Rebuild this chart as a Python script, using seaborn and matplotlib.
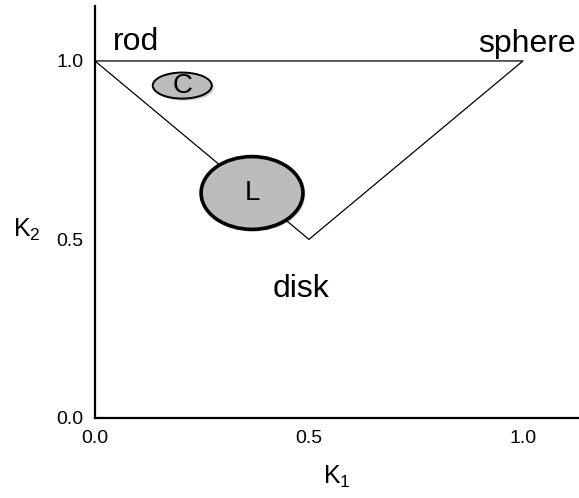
import matplotlib
matplotlib.use("Agg")
import matplotlib.pyplot as plt
from matplotlib.patches import Ellipse
import matplotlib.patheffects as pe
import pandas as pd
import seaborn as sns

# Shape-space triangle vertices (K1, K2)
vertex_names = ["rod", "sphere", "disk"]
vertex_k1 = [0.0, 1.0, 0.5]
vertex_k2 = [1.0, 1.0, 0.5]

# Occupied regions drawn as ellipses: centre and full extents
region_names = ["C", "L"]
region_k1 = [0.204, 0.367]
region_k2 = [0.931, 0.630]
region_width = [0.138, 0.238]
region_height = [0.073, 0.204]

tick_values = [0.0, 0.5, 1.0]
tick_labels = ["0.0", "0.5", "1.0"]

sns.set_theme(style="white")
plt.rcParams["font.family"] = ["Liberation Sans", "DejaVu Sans"]
plt.rcParams["mathtext.default"] = "regular"

fig = plt.figure(figsize=(5.79, 4.98), dpi=100)
ax = fig.add_axes([0.164, 0.161, 0.836, 0.827])

# closed triangle outline
tri = pd.DataFrame({
    "K1": vertex_k1 + vertex_k1[:1],
    "K2": vertex_k2 + vertex_k2[:1],
})
sns.lineplot(data=tri, x="K1", y="K2", sort=False, estimator=None,
             color="black", linewidth=0.9, ax=ax, zorder=2)

edge_widths = [1.4, 2.6]
for name, cx, cy, w, h, lw in zip(region_names, region_k1, region_k2,
                                  region_width, region_height, edge_widths):
    e = Ellipse((cx, cy), w, h, facecolor="#bcbcbc", edgecolor="black",
                linewidth=lw, zorder=3)
    e.set_path_effects([pe.SimplePatchShadow(offset=(1.5, -1.5), alpha=0.25),
                        pe.Normal()])
    ax.add_patch(e)
    ax.text(cx, cy, name, ha="center", va="center", fontsize=20,
            color="black", zorder=4)

# vertex labels
label_pos = {"rod": (0.042, 1.031, "left"),
             "sphere": (0.895, 1.025, "left"),
             "disk": (0.416, 0.339, "left")}
for name in vertex_names:
    x, y, ha = label_pos[name]
    ax.text(x, y, name, ha=ha, va="baseline", fontsize=23, color="black")

ax.set_xlim(0, 1.131)
ax.set_ylim(0, 1.154)
ax.set_xticks(tick_values)
ax.set_xticklabels(tick_labels)
ax.set_yticks(tick_values)
ax.set_yticklabels(tick_labels)

for side in ["top", "right"]:
    ax.spines[side].set_visible(False)
for side in ["left", "bottom"]:
    ax.spines[side].set_color("black")
    ax.spines[side].set_linewidth(1.6)

ax.tick_params(axis="both", direction="in", length=7, width=1.4,
               colors="black", labelsize=14)
ax.tick_params(axis="x", pad=9)
ax.tick_params(axis="y", pad=8)

ax.set_xlabel("K$_1$", fontsize=18, labelpad=12, color="black")
ax.set_ylabel("K$_2$", fontsize=18, rotation=0, color="black")
ax.yaxis.set_label_coords(-0.14, 0.425)
ax.grid(False)

fig.savefig("out.png", dpi=100, facecolor="white")
